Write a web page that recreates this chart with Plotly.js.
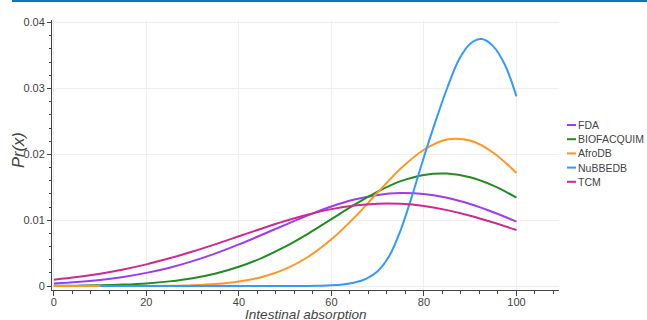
<!DOCTYPE html>
<html><head><meta charset="utf-8">
<script src="https://cdn.plot.ly/plotly-3.0.1.min.js"></script>
<style>
html,body{margin:0;padding:0;background:#fff;}
#chart{width:647px;height:320px;position:absolute;left:0;top:0;}
#topbar{position:absolute;left:12px;top:0;width:635px;height:2px;background:#0e74bf;z-index:5;}
</style>
</head><body>
<div id="chart"></div><div id="topbar"></div>
<script>
// x grid (Intestinal absorption, %)
const xGrid = [0,5,10,15,20,25,30,35,40,45,50,55,60,65,70,75,80,85,90,95,100];
const fdaY  = [0.00038,0.00061,0.00093,0.00138,0.00200,0.00279,0.00378,0.00496,0.00632,0.00779,0.00930,0.01077,0.01209,0.01314,0.01384,0.01413,0.01398,0.01341,0.01246,0.01121,0.00979];
const bioY  = [0.00003,0.00006,0.00011,0.00022,0.00040,0.00071,0.00119,0.00191,0.00292,0.00428,0.00598,0.00797,0.01015,0.01235,0.01434,0.01593,0.01688,0.01708,0.01651,0.01524,0.01343];
const afroY = [0.0000001,0.0000006,0.000002,0.000006,0.000019,0.000052,0.000133,0.000314,0.00069,0.00138,0.00258,0.00445,0.00709,0.01043,0.01420,0.01785,0.02070,0.02226,0.02209,0.02025,0.01716];
const tcmY  = [0.00097,0.00136,0.00188,0.00252,0.00329,0.00421,0.00524,0.00637,0.00756,0.00875,0.00987,0.01087,0.01168,0.01224,0.01251,0.01248,0.01215,0.01153,0.01068,0.00965,0.00851];
const nubX  = [10,15,20,25,30,35,40,45,50,55,57.5,60,62.5,65,67.5,70,72.5,75,77.5,80,82.5,85,87.5,90,92.5,95,97.5,100];
const nubY  = [0,0,0,0,0,0,0,0,0.000001,0.00002,0.00005,0.00011,0.00025,0.00053,0.00110,0.00225,0.00455,0.00855,0.01385,0.01960,0.02500,0.03000,0.03430,0.03680,0.03750,0.03640,0.03360,0.02880];

const names  = ["FDA","BIOFACQUIM","AfroDB","NuBBEDB","TCM"];
const colors = ["#9b3df2","#228b22","#ff9622","#3399ff","#cc2a8e"];
const xTitle = "Intestinal absorption";
const yTitle = "Pr(x)";
const xs = [xGrid,xGrid,xGrid,nubX,xGrid];
const ys = [fdaY,bioY,afroY,nubY,tcmY];

const traces = names.map((n,i)=>({
  type:'scatter', mode:'lines', name:n, x:xs[i], y:ys[i],
  line:{color:colors[i], width:2, shape:'spline', smoothing:1},
  showlegend:false, hoverinfo:'skip'
}));

const L=52, R=88, T=20, B=30, W=647, H=320;
const pw = W-L-R, ph = H-T-B;
const shapes=[], annotations=[];
names.forEach((n,i)=>{
  const cy = 125 + i*14.2;
  const yp = (H-B-cy)/ph;
  shapes.push({type:'line', xref:'paper', yref:'paper',
    x0:(567-L)/pw, x1:(576-L)/pw, y0:yp, y1:yp,
    line:{color:colors[i], width:2}});
  annotations.push({xref:'paper', yref:'paper', x:(576-L)/pw, y:yp,
    xanchor:'left', yanchor:'middle', text:n, showarrow:false,
    font:{size:10.5, color:'#444'}});
});
// axis titles placed as in the reference
annotations.push({xref:'paper', yref:'paper', x:0.5, y:(H-B-314)/ph,
  xanchor:'center', yanchor:'middle', text:'<i>'+xTitle+'</i>', showarrow:false,
  font:{size:13.6, color:'#444'}});
annotations.push({xref:'paper', yref:'paper', x:(18-L)/pw, y:(H-B-150)/ph,
  xanchor:'center', yanchor:'middle', textangle:-90, text:'<i>'+yTitle+'</i>', showarrow:false,
  font:{size:16.5, color:'#444'}});

const layout = {
  width:W, height:H,
  margin:{l:L, r:R, t:T, b:B, pad:0},
  paper_bgcolor:'#fff', plot_bgcolor:'#fff',
  font:{family:'"Liberation Sans", Arial, sans-serif', size:11, color:'#444'},
  showlegend:false,
  xaxis:{
    range:[-0.4,109.2], tickmode:'linear', tick0:0, dtick:20,
    showgrid:true, gridcolor:'#eeeeee', gridwidth:1, zeroline:false,
    showline:true, linecolor:'#444', linewidth:1,
    ticks:'outside', ticklen:5, tickcolor:'#444', tickwidth:1,
    minor:{dtick:4, tick0:0, ticks:'outside', ticklen:3, tickcolor:'#444', showgrid:false},
    ticklabelstandoff:-3,
    automargin:false, tickfont:{size:11,color:'#444'}
  },
  yaxis:{
    range:[-0.0006,0.0404], tickmode:'linear', tick0:0, dtick:0.01,
    showgrid:true, gridcolor:'#eeeeee', gridwidth:1, zeroline:false,
    showline:true, linecolor:'#444', linewidth:1,
    ticks:'outside', ticklen:4, tickcolor:'#444', tickwidth:1,
    minor:{dtick:0.002, tick0:0, ticks:'outside', ticklen:2, tickcolor:'#444', showgrid:false},
    automargin:false, tickfont:{size:11,color:'#444'}
  },
  shapes:shapes, annotations:annotations
};
Plotly.newPlot('chart', traces, layout, {displayModeBar:false, staticPlot:true});
</script>
</body></html>
